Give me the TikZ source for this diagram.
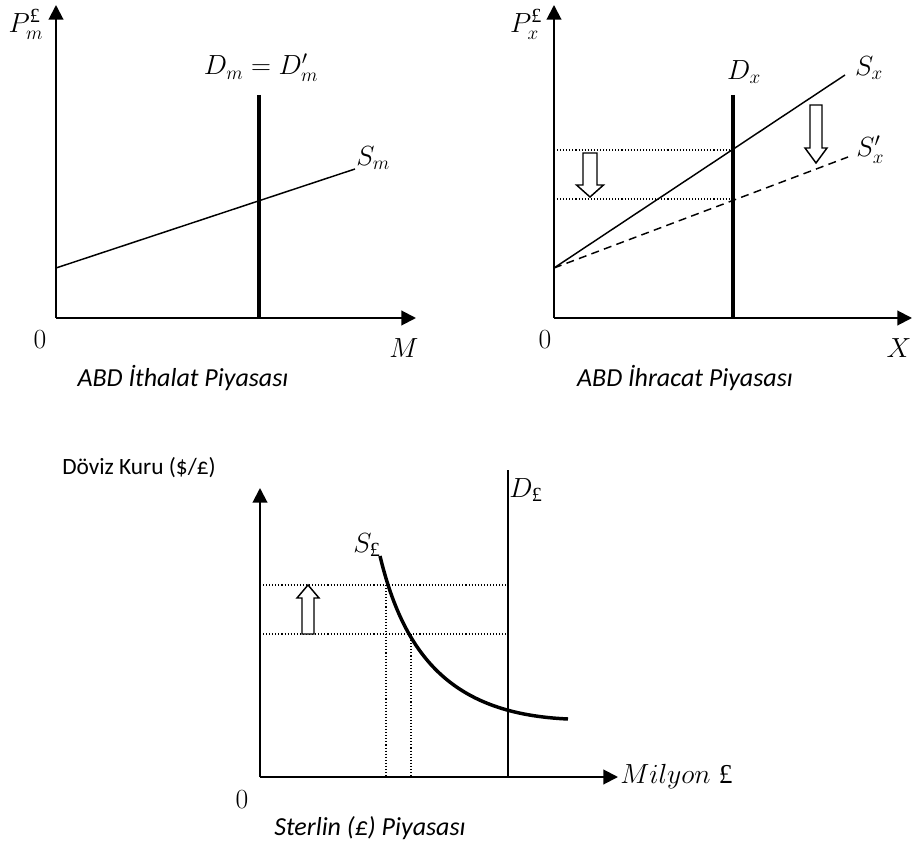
\documentclass[tikz,border=0pt]{standalone}
\usepackage{fontspec}
\usepackage{amsmath}
\newfontfamily\calibri{Carlito}
\newfontfamily\tnr{Liberation Serif}
\newcommand\gbp{\text{\tnr £}}
\usetikzlibrary{arrows.meta}

\begin{document}
\begin{tikzpicture}[
    x=0.75pt, y=-0.75pt,
    every node/.style={inner sep=0pt},
    axis/.style={line width=1.5pt, -{Triangle[length=11pt,width=11pt]}},
    demand/.style={line width=2.3pt},
    supply/.style={line width=1.1pt},
    guide/.style={line width=0.8pt, dash pattern=on 0.8pt off 1.5pt},
    hollow/.style={draw, line width=1.1pt, fill=white},
    lbl/.style={font=\fontsize{21.5}{25}\selectfont},
    small/.style={font=\fontsize{22}{25}\selectfont},
    caption/.style={font=\calibri\itshape\fontsize{19.5}{23}\selectfont}
]
    \useasboundingbox (0,0) rectangle (914,848);

    % ABD ithalat piyasasi
    \coordinate (oM) at (56,318);
    \coordinate (topM) at (56,5);
    \coordinate (endM) at (416,318);
    \draw[axis] (oM) -- (topM);
    \draw[axis] (oM) -- (endM);

    \coordinate (dmTop) at (259,95);
    \coordinate (dmBot) at (259,318);
    \draw[demand] (dmTop) -- (dmBot);

    \coordinate (smA) at (56,268);
    \coordinate (smB) at (355,169);
    \draw[supply] (smA) -- (smB);

    \node[lbl] (pm) at (26,24) {$P_m^{\gbp}$};
    \node[lbl] (dm) at (261,68) {$D_m = D_m'$};
    \node[lbl, anchor=west] (sm) at (356,158) {$S_m$};
    \node[small] (zeroM) at (40,340) {$0$};
    \node[lbl] (qM) at (404,348) {$M$};
    \node[caption] (capM) at (183,378) {ABD İthalat Piyasası};

    % ABD ihracat piyasasi
    \coordinate (oX) at (554,318);
    \coordinate (topX) at (554,5);
    \coordinate (endX) at (912,318);
    \draw[axis] (oX) -- (topX);
    \draw[axis] (oX) -- (endX);

    \coordinate (dxTop) at (733,95);
    \coordinate (dxBot) at (733,318);
    \draw[demand] (dxTop) -- (dxBot);

    \coordinate (sxA) at (554,268);
    \coordinate (sxB) at (845,75);
    \coordinate (sxC) at (848,157);
    \draw[supply] (sxA) -- (sxB);
    \draw[supply, dash pattern=on 6pt off 4pt] (sxA) -- (sxC);

    \coordinate (pxHi) at (733,150);
    \coordinate (pxLo) at (733,199);
    \draw[guide] (oX |- pxHi) -- (pxHi);
    \draw[guide] (oX |- pxLo) -- (pxLo);

    \draw[hollow] (583,153) -- (597,153) -- (597,185) -- (603.5,185)
        -- (590,197) -- (576.5,185) -- (583,185) -- cycle;
    \draw[hollow] (810,105) -- (822,105) -- (822,148) -- (827,148)
        -- (816,163) -- (805,148) -- (810,148) -- cycle;

    \node[lbl] (px) at (526,24) {$P_x^{\gbp}$};
    \node[lbl] (dx) at (744,72) {$D_x$};
    \node[lbl] (sx) at (869,68) {$S_x$};
    \node[lbl, anchor=west] (sxp) at (856,150) {$S_x'$};
    \node[small] (zeroX) at (545,340) {$0$};
    \node[lbl] (qX) at (899,348) {$X$};
    \node[caption] (capX) at (685,378) {ABD İhracat Piyasası};

    % Sterlin piyasasi
    \coordinate (oS) at (260,777);
    \coordinate (topS) at (260,488);
    \coordinate (endS) at (618,777);
    \draw[axis] (oS) -- (topS);
    \draw[axis] (oS) -- (endS);

    \coordinate (dpTop) at (508,470);
    \coordinate (dpBot) at (508,777);
    \draw[line width=1.3pt] (dpTop) -- (dpBot);

    \coordinate (spA) at (380,556);
    \coordinate (spC) at (568,719);
    \draw[line width=2.6pt] (spA) .. controls (405,660) and (455,714) .. (spC);

    \coordinate (eHi) at (386,585);
    \coordinate (eLo) at (411,634);
    \draw[guide] (oS |- eHi) -- (dpBot |- eHi);
    \draw[guide] (oS |- eLo) -- (dpBot |- eLo);
    \draw[guide] (eHi) -- (eHi |- oS);
    \draw[guide] (eLo) -- (eLo |- oS);

    \draw[hollow] (302,634) -- (314,634) -- (314,598) -- (319,598)
        -- (308,585) -- (297,598) -- (302,598) -- cycle;

    \node[font=\calibri\fontsize{17.5}{21}\selectfont, anchor=west] (kur) at (62,468) {Döviz Kuru (\$/£)};
    \node[lbl] (dp) at (526,490) {$D_{\gbp}$};
    \node[lbl] (sp) at (367,545) {$S_{\gbp}$};
    \node[small] (zeroS) at (242,800) {$0$};
    \node[font=\fontsize{20.5}{24}\selectfont, anchor=west] (qS) at (620,777) {$Milyon\ \gbp$};
    \node[caption] (capS) at (370,828) {Sterlin (£) Piyasası};

\end{tikzpicture}
\end{document}
